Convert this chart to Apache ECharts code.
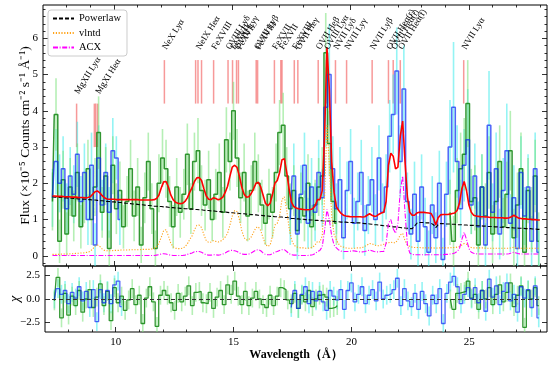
<!DOCTYPE html>
<html>
<head>
<meta charset="utf-8">
<script src="https://cdn.jsdelivr.net/npm/echarts@6/dist/echarts.min.js"></script>
<style>
html, body { margin: 0; padding: 0; background: #fff; }
#main { width: 554px; height: 369px; }
</style>
</head>
<body>
<div id="main"></div>
<script>
// model curves, sampled every 0.1 A from 7.4 A
var modelStart = 7.4, modelStep = 0.1;
var powerlaw = [
  1.63,1.62,1.62,1.61,1.61,1.60,1.60,1.59,1.59,1.58,
  1.58,1.57,1.57,1.56,1.56,1.55,1.55,1.54,1.54,1.53,
  1.52,1.52,1.51,1.50,1.50,1.49,1.49,1.48,1.47,1.47,
  1.46,1.45,1.45,1.44,1.43,1.43,1.42,1.41,1.41,1.40,
  1.39,1.39,1.38,1.37,1.37,1.36,1.36,1.35,1.35,1.34,
  1.33,1.33,1.32,1.32,1.31,1.31,1.30,1.30,1.29,1.29,
  1.28,1.28,1.27,1.27,1.26,1.25,1.25,1.24,1.24,1.23,
  1.22,1.22,1.21,1.21,1.20,1.19,1.19,1.18,1.18,1.17,
  1.16,1.16,1.15,1.15,1.14,1.13,1.13,1.12,1.12,1.11,
  1.10,1.10,1.09,1.09,1.08,1.08,1.07,1.07,1.06,1.06,
  1.05,1.03,1.03,1.02,1.02,1.01,1.01,1.00,1.00,0.99,
  0.99,0.98,0.98,0.97,0.97,0.96,0.96,0.96,0.95,0.95,
  0.94,0.94,0.93,0.93,0.93,0.92,0.92,0.92,0.91,0.91,
  0.91,0.90,0.89,0.89,0.88,0.87,0.86,0.86,0.85,0.84,
  0.83,0.83,0.82,0.81,0.80,0.80,0.79,0.78,0.77,0.77,
  0.76,0.75,0.75,0.82,0.90,0.92,0.92,0.92,0.91,0.91,
  0.90,0.86,0.78,0.86,0.89,0.89,0.88,0.88,0.88,0.87,
  0.87,0.86,0.86,0.86,0.85,0.85,0.84,0.84,0.84,0.83,
  0.83,0.83,0.82,0.82,0.81,0.81,0.81,0.80,0.80,0.79,
  0.79,0.79,0.78,0.78,0.78,0.77,0.77,0.76,0.76,0.76,
  0.75,0.75,0.75,0.74,0.74,0.73,0.73
];
var vlntd = [
  0.04,0.04,0.04,0.04,0.05,0.05,0.05,0.05,0.06,0.06,
  0.07,0.07,0.08,0.08,0.09,0.10,0.13,0.19,0.27,0.30,
  0.26,0.19,0.15,0.14,0.14,0.14,0.15,0.15,0.15,0.16,
  0.16,0.16,0.16,0.17,0.17,0.17,0.17,0.17,0.18,0.18,
  0.18,0.18,0.19,0.21,0.25,0.35,0.52,0.70,0.72,0.55,
  0.35,0.25,0.21,0.20,0.20,0.21,0.25,0.33,0.45,0.55,
  0.72,0.84,0.85,0.78,0.58,0.42,0.37,0.38,0.42,0.40,
  0.38,0.40,0.45,0.52,0.62,0.85,1.10,1.25,1.22,1.00,
  0.70,0.50,0.44,0.45,0.52,0.65,0.78,0.80,0.70,0.50,
  0.32,0.26,0.30,0.55,0.85,0.90,1.10,1.55,1.63,1.25,
  0.78,0.45,0.30,0.25,0.23,0.22,0.22,0.21,0.21,0.22,
  0.24,0.30,0.40,0.38,0.55,1.60,3.60,2.50,1.10,0.60,
  0.44,0.32,0.26,0.24,0.22,0.21,0.21,0.21,0.21,0.22,
  0.22,0.23,0.26,0.30,0.34,0.33,0.30,0.28,0.28,0.30,
  0.32,0.35,0.36,0.38,0.36,0.36,0.45,0.58,0.62,0.42,
  0.30,0.26,0.24,0.23,0.23,0.23,0.22,0.22,0.22,0.22,
  0.22,0.22,0.21,0.22,0.22,0.22,0.22,0.22,0.22,0.23,
  0.23,0.24,0.26,0.30,0.34,0.32,0.26,0.23,0.22,0.22,
  0.22,0.22,0.22,0.21,0.21,0.21,0.21,0.21,0.21,0.21,
  0.21,0.21,0.21,0.21,0.22,0.24,0.22,0.21,0.21,0.21,
  0.21,0.21,0.21,0.21,0.21,0.21,0.21
];
var acx = [
  0.01,0.01,0.01,0.01,0.01,0.01,0.01,0.01,0.01,0.01,
  0.01,0.01,0.01,0.01,0.01,0.01,0.01,0.01,0.01,0.01,
  0.01,0.01,0.01,0.01,0.01,0.01,0.01,0.01,0.01,0.01,
  0.01,0.01,0.01,0.01,0.01,0.01,0.01,0.01,0.01,0.01,
  0.01,0.01,0.01,0.01,0.02,0.03,0.05,0.06,0.05,0.03,
  0.02,0.01,0.01,0.01,0.01,0.01,0.02,0.04,0.06,0.08,
  0.11,0.12,0.12,0.10,0.06,0.03,0.02,0.02,0.03,0.03,
  0.02,0.03,0.05,0.08,0.12,0.15,0.15,0.14,0.12,0.08,
  0.05,0.04,0.04,0.05,0.08,0.12,0.16,0.17,0.14,0.08,
  0.04,0.03,0.03,0.06,0.10,0.12,0.15,0.17,0.17,0.12,
  0.06,0.03,0.02,0.02,0.01,0.01,0.01,0.01,0.01,0.02,
  0.03,0.06,0.12,0.15,0.25,0.70,1.28,1.00,0.55,0.30,
  0.22,0.16,0.13,0.12,0.12,0.12,0.13,0.14,0.13,0.12,
  0.11,0.11,0.12,0.14,0.16,0.14,0.12,0.11,0.11,0.12,
  0.12,0.35,0.90,1.00,0.75,0.62,0.90,1.80,2.20,1.20,
  0.30,0.08,0.04,0.03,0.03,0.03,0.03,0.03,0.03,0.03,
  0.03,0.03,0.03,0.03,0.03,0.03,0.04,0.04,0.05,0.06,
  0.08,0.12,0.20,0.45,0.65,0.45,0.20,0.10,0.07,0.06,
  0.05,0.05,0.05,0.05,0.05,0.05,0.05,0.05,0.05,0.05,
  0.05,0.05,0.05,0.06,0.08,0.10,0.08,0.06,0.05,0.05,
  0.05,0.05,0.05,0.05,0.05,0.05,0.05
];
var totalModel = [
  1.65,1.65,1.64,1.64,1.64,1.63,1.63,1.63,1.62,1.62,
  1.62,1.61,1.61,1.61,1.60,1.61,1.63,1.70,1.77,1.79,
  1.74,1.66,1.60,1.57,1.56,1.56,1.56,1.55,1.55,1.55,
  1.55,1.55,1.55,1.55,1.55,1.55,1.55,1.54,1.54,1.54,
  1.54,1.54,1.54,1.55,1.58,1.68,1.88,2.04,2.05,1.90,
  1.68,1.55,1.48,1.45,1.44,1.45,1.50,1.60,1.75,1.88,
  2.05,2.15,2.16,2.08,1.85,1.65,1.56,1.55,1.60,1.58,
  1.55,1.57,1.62,1.75,1.92,2.20,2.45,2.50,2.44,2.20,
  1.90,1.70,1.62,1.63,1.72,1.85,2.00,2.03,1.90,1.68,
  1.45,1.38,1.45,1.70,2.00,2.08,2.30,2.65,2.68,2.30,
  1.85,1.48,1.36,1.32,1.30,1.29,1.28,1.27,1.27,1.28,
  1.30,1.38,1.55,1.55,1.80,3.30,5.75,4.60,2.60,1.75,
  1.35,1.25,1.17,1.12,1.10,1.09,1.08,1.08,1.08,1.08,
  1.08,1.07,1.08,1.12,1.16,1.12,1.09,1.10,1.15,1.18,
  1.20,1.50,2.50,2.83,2.75,2.40,2.45,3.30,3.72,2.60,
  1.63,1.20,1.12,1.12,1.18,1.20,1.20,1.20,1.19,1.18,
  1.17,1.05,0.85,1.05,1.13,1.14,1.14,1.14,1.15,1.17,
  1.18,1.25,1.45,1.85,2.05,1.80,1.40,1.20,1.12,1.10,
  1.09,1.08,1.08,1.07,1.07,1.06,1.06,1.06,1.05,1.05,
  1.05,1.04,1.04,1.05,1.08,1.12,1.08,1.04,1.03,1.02,
  1.02,1.01,1.01,1.00,1.00,0.99,0.99
];

// spectra, 0.15 A bins
var binW = 0.15;
var greenStartA = 7.40, greenStartB = 24.20;
var blueStartA = 7.40, blueStartB = 17.45;

var greenFluxA = [
  1.5,3.9,0.4,2.1,0.6,1.9,1.1,2.3,0.8,1.6,
  2.4,1.0,1.9,3.4,1.2,2.2,0.2,2.5,1.3,1.8,
  0.8,1.5,2.4,1.1,1.9,0.3,1.6,2.6,1.3,0.2,
  2.0,2.7,2.4,1.5,0.8,1.9,1.2,1.7,2.8,1.3,
  2.6,2.9,1.8,1.4,2.1,1.0,1.7,2.3,1.2,3.2,
  2.6,4.0,2.7,1.6,2.3,1.1,1.8,2.6,2.0,1.4,
  0.9,1.7,1.2,2.3,3.4,3.6,2.2,1.3,1.8,0.7,
  1.6,1.1,2.0,0.8,1.4,1.9,2.2,5.6,3.1,1.5,
  0.9
];
var greenErrA = [
  0.8,1.0,0.6,0.8,0.6,0.8,0.7,0.8,0.6,0.7,
  0.8,0.7,0.8,1.0,0.7,0.8,0.5,0.8,0.7,0.8,
  0.6,0.7,0.8,0.7,0.8,0.5,0.7,0.8,0.7,0.5,
  0.8,0.8,0.8,0.7,0.6,0.8,0.7,0.7,0.85,0.7,
  0.8,0.9,0.7,0.7,0.8,0.6,0.7,0.8,0.7,0.9,
  0.8,0.8,0.8,0.7,0.8,0.7,0.7,0.8,0.8,0.7,
  0.6,0.7,0.7,0.8,0.9,0.9,0.8,0.7,0.7,0.6,
  0.7,0.7,0.8,0.6,0.7,0.8,0.8,1.1,0.9,0.7,
  0.6
];
var greenChiA = [
  -0.2,2.3,-2.0,0.6,-1.7,0.3,-0.7,0.9,-1.4,0.0,
  1.0,-0.9,0.2,1.6,-0.7,0.8,-2.3,1.2,-0.4,0.3,
  -1.2,-0.1,1.1,-0.6,0.4,-2.6,0.1,1.3,-0.3,-2.9,
  0.4,0.9,0.4,-0.4,-1.2,0.6,-0.3,0.3,1.4,-0.7,
  0.7,0.8,-0.4,-0.5,0.7,-1.0,0.2,0.9,-0.6,1.5,
  0.5,1.9,0.3,-0.6,0.8,-0.7,0.1,0.8,0.0,-0.6,
  -0.9,0.4,-0.7,0.3,1.2,1.0,-0.1,-0.5,0.6,-1.0,
  0.4,-0.3,0.9,-0.8,0.0,0.4,0.5,0.2,-1.0,-0.9,
  -0.7
];
var greenFluxB = [
  1.2,0.4,1.8,2.4,2.8,4.2,1.5,1.6,0.3,1.9,
  1.1,2.3,0.6,1.5,2.6,0.8,1.7,2.9,0.5,1.4,
  2.4,0.1,1.8,1.0,2.2,0.4
];
var greenErrB = [
  0.9,0.7,0.9,1.0,1.0,1.2,0.9,0.9,0.7,0.9,
  0.9,1.0,0.8,0.9,1.0,0.8,0.9,1.1,0.8,0.9,
  1.0,0.6,0.9,0.9,1.0,0.8
];
var greenChiB = [
  0.0,-1.1,0.6,0.7,0.8,1.9,0.1,0.5,-1.1,0.9,
  0.0,1.2,-0.6,0.5,1.5,-0.3,0.7,1.7,-0.8,0.4,
  1.4,-3.0,0.9,0.0,1.2,-0.7
];

var blueFluxA = [
  1.6,2.6,2.0,2.4,1.3,2.2,1.7,2.8,1.5,2.3,
  1.0,2.5,0.3,2.7,1.4,2.3,1.2,2.9,2.7,1.0
];
var blueErrA = [
  0.8,0.9,0.8,0.9,0.7,0.8,0.8,0.9,0.7,0.8,
  0.7,0.9,0.6,0.9,0.7,0.8,0.7,0.9,0.6,0.7
];
var blueChiA = [
  0.0,1.1,0.5,0.9,-0.5,0.7,0.1,1.3,-0.2,0.8,
  -0.9,1.0,-2.4,1.0,-0.4,0.9,-0.5,1.5,1.9,-0.8
];
var blueFluxB = [
  1.0,2.2,0.6,1.7,2.5,0.9,1.9,1.2,2.3,1.6,
  4.1,5.0,2.4,1.3,2.1,0.5,1.8,2.6,0.9,1.5,
  2.3,0.7,1.4,2.1,1.0,2.7,1.2,1.9,3.3,3.9,
  5.1,2.6,4.6,1.5,0.6,1.7,0.4,1.9,0.8,0.1,
  1.4,0.5,2.0,-0.1,1.7,3.0,4.1,2.6,1.3,2.5,
  3.2,1.4,2.2,0.8,1.9,0.3,3.6,1.2,2.4,0.6,
  1.8,2.9,0.9,1.6,0.2,2.3,1.1,1.9,0.4,2.4,
  0.1
];
var blueErrB = [
  0.7,0.9,0.7,0.8,0.9,0.7,0.8,0.8,0.9,0.8,
  1.1,1.4,0.9,0.7,0.9,0.6,0.8,0.9,0.7,0.8,
  0.9,0.7,0.8,0.9,0.7,0.9,0.8,0.9,1.0,1.1,
  1.2,1.0,1.2,0.8,0.7,0.9,0.7,0.9,0.8,0.6,
  0.8,0.7,0.9,0.6,0.9,1.3,1.8,1.0,0.8,1.0,
  1.4,0.8,0.9,0.7,0.9,0.6,1.5,0.8,1.0,0.7,
  0.9,1.3,0.8,0.9,0.6,1.0,0.8,0.9,0.7,1.0,
  0.6
];
var blueChiB = [
  -0.9,0.9,-1.0,0.5,1.3,-0.5,0.8,-0.2,0.8,-0.3,
  -1.2,0.9,0.3,-0.1,1.0,-1.1,0.9,1.7,-0.3,0.5,
  1.3,-0.5,0.4,1.0,-0.2,1.8,0.0,0.4,0.6,1.0,
  2.2,-0.7,1.1,-0.2,-0.8,0.6,-1.1,0.8,-0.5,-1.8,
  0.4,-0.5,1.1,-2.6,0.6,1.8,2.4,1.3,-0.5,0.5,
  1.2,0.0,1.2,-0.4,0.9,-1.3,2.1,0.2,1.4,-0.6,
  0.8,1.7,-0.2,0.5,-1.4,1.3,0.1,1.0,-0.9,1.4,
  -2.0
];

// line identifications
var lineWl = [8.42, 9.17, 9.23, 9.31, 12.13, 13.45, 13.55, 13.70, 14.21, 14.82, 15.01,
  15.18, 15.26, 16.01, 16.07, 16.78, 17.05, 17.10, 17.62, 17.77, 18.63, 18.97, 19.36,
  19.83, 20.91, 21.60, 21.80, 22.10, 24.78];
var labelWl = [8.42, 9.31, 12.13, 13.55, 14.21, 14.82, 15.01, 15.18, 15.26, 16.01, 16.07,
  16.78, 17.07, 17.62, 17.77, 18.63, 18.97, 19.36, 19.83, 20.91, 21.60, 21.80, 22.10, 24.78];
var labelText = ['MgXII Lyα', 'MgXI Heα', 'NeX Lyα', 'NeIX Heα', 'FeXVIII', 'OVIII Lyδ',
  'FeXVII', 'OVIII Lyγ', 'FeXVII', 'OVIII Lyβ', 'FeXVIII', 'FeXVII', 'FeXVII', 'FeXVIII',
  'OVII Heγ', 'OVII Heβ', 'OVIII Lyα', 'NVII Lyδ', 'NVII Lyγ', 'NVII Lyβ',
  'OVII Heα(r)', 'OVII Heα(i)', 'OVII Heα(f)', 'NVII Lyα'];

var xMajor = [10, 15, 20, 25];
var xMinor = [8, 9, 11, 12, 13, 14, 16, 17, 18, 19, 21, 22, 23, 24, 26, 27, 28];
var yMajor = [0, 1, 2, 3, 4, 5, 6];
var chiMajor = [-2.5, 0, 2.5];

var SERIF = '"Liberation Serif", "Times New Roman", serif';
var X_MIN = 7.0, X_MAX = 28.3;

var yMinor = [];
for (var k = -1; k <= 34; k++) {
  if (k % 5 !== 0) yMinor.push(+(k * 0.2).toFixed(1));
}

function steps(start, step, vals) {
  return vals.map(function (v, i) { return [+(start + i * step).toFixed(3), v]; });
}
function errData(start, vals, errs) {
  return vals.map(function (v, i) { return [+(start + i * binW).toFixed(3), v, errs ? errs[i] : 1]; });
}

function errSeries(data, color, ax, width) {
  return {
    type: 'custom', xAxisIndex: ax, yAxisIndex: ax, z: 1, silent: true, clip: true,
    data: data,
    encode: { x: 0, y: 1 },
    renderItem: function (params, api) {
      var x = api.value(0), y = api.value(1), e = api.value(2);
      var a = api.coord([x, y - e]), b = api.coord([x, y + e]);
      return { type: 'line', shape: { x1: a[0], y1: a[1], x2: b[0], y2: b[1] },
        style: { stroke: color, lineWidth: width } };
    }
  };
}
function stepSeries(data, color, ax, width, z) {
  return {
    type: 'line', step: 'middle', xAxisIndex: ax, yAxisIndex: ax, z: z, silent: true,
    data: data, symbol: 'none', clip: true,
    lineStyle: { color: color, width: width }
  };
}

function xAx(g, pos, ticks, len, labels) {
  return {
    type: 'value', gridIndex: g, position: pos, min: X_MIN, max: X_MAX,
    axisLine: { show: false, onZero: false }, splitLine: { show: false },
    axisTick: { show: true, inside: true, length: len, customValues: ticks,
      lineStyle: { color: '#000', width: 0.8 } },
    axisLabel: labels ? { show: true, customValues: ticks, color: '#000',
      fontFamily: SERIF, fontSize: 11, margin: 5 } : { show: false }
  };
}
function yAx(g, pos, min, max, ticks, len, labels, fmt) {
  return {
    type: 'value', gridIndex: g, position: pos, min: min, max: max,
    axisLine: { show: false, onZero: false }, splitLine: { show: false },
    axisTick: { show: true, inside: true, length: len, customValues: ticks,
      lineStyle: { color: '#000', width: 0.8 } },
    axisLabel: labels ? { show: true, customValues: ticks, color: '#000',
      fontFamily: SERIF, fontSize: 11, margin: 5, formatter: fmt } : { show: false }
  };
}

var xAxes = [
  xAx(0, 'bottom', xMajor, 5, false), xAx(0, 'bottom', xMinor, 2.5, false),
  xAx(0, 'top', xMajor, 5, false), xAx(0, 'top', xMinor, 2.5, false),
  xAx(1, 'bottom', xMajor, 5, true), xAx(1, 'bottom', xMinor, 2.5, false),
  xAx(1, 'top', xMajor, 5, false), xAx(1, 'top', xMinor, 2.5, false)
];
xAxes[4].name = 'Wavelength（Å）';
xAxes[4].nameLocation = 'middle';
xAxes[4].nameGap = 17;
xAxes[4].nameMoveOverlap = false;
xAxes[4].nameTextStyle = { fontFamily: SERIF, fontSize: 12, fontWeight: 'bold', color: '#000' };

var fmtFlux = function (v) { return String(v); };
var fmtChi = function (v) { return v === 0 ? '0.0' : (v < 0 ? '−' + (-v).toFixed(1) : v.toFixed(1)); };
var yAxes = [
  yAx(0, 'left', -0.28, 6.92, yMajor, 5, true, fmtFlux), yAx(0, 'left', -0.28, 6.92, yMinor, 2.5, false),
  yAx(0, 'right', -0.28, 6.92, yMajor, 5, false), yAx(0, 'right', -0.28, 6.92, yMinor, 2.5, false),
  yAx(1, 'left', -3.5, 3.5, chiMajor, 5, true, fmtChi), yAx(1, 'left', -3.5, 3.5, [], 2.5, false),
  yAx(1, 'right', -3.5, 3.5, chiMajor, 5, false), yAx(1, 'right', -3.5, 3.5, [], 2.5, false)
];
yAxes[0].name = 'Flux (×10⁻⁵ Counts cm⁻² s⁻¹ Å⁻¹)';
yAxes[0].nameLocation = 'middle';
yAxes[0].nameRotate = 90;
yAxes[0].nameGap = 11;
yAxes[0].nameMoveOverlap = false;
yAxes[0].nameTextStyle = { fontFamily: SERIF, fontSize: 13.5, color: '#000' };
yAxes[4].name = 'χ';
yAxes[4].nameLocation = 'middle';
yAxes[4].nameRotate = 90;
yAxes[4].nameGap = 23;
yAxes[4].nameMoveOverlap = false;
yAxes[4].nameTextStyle = { fontFamily: SERIF, fontSize: 14, fontStyle: 'italic', color: '#000' };

var cyan = 'rgba(60,235,235,0.55)';
var lightGreen = 'rgba(120,225,120,0.55)';
var green = 'rgba(20,135,20,0.88)';
var blue = 'rgba(10,40,245,0.72)';

var series = [
  // line markers
  {
    type: 'custom', xAxisIndex: 0, yAxisIndex: 0, z: 0, silent: true,
    data: lineWl.map(function (w) { return [w]; }),
    encode: { x: 0 },
    renderItem: function (params, api) {
      var w = api.value(0);
      var lo = w < 10 ? 3.0 : 4.2, hi = w < 10 ? 4.2 : 5.4;
      var a = api.coord([w, lo]), b = api.coord([w, hi]);
      return { type: 'line', shape: { x1: a[0], y1: a[1], x2: b[0], y2: b[1] },
        style: { stroke: 'rgba(240,70,70,0.55)', lineWidth: 1.5 } };
    }
  },
  {
    type: 'custom', xAxisIndex: 0, yAxisIndex: 0, z: 6, silent: true,
    data: labelWl.map(function (w) { return [w]; }),
    encode: { x: 0 },
    renderItem: function (params, api) {
      var w = api.value(0);
      var p = api.coord([w, w < 10 ? 4.42 : 5.65]);
      return { type: 'text', x: p[0] + 4, y: p[1], rotation: 58 * Math.PI / 180,
        style: { text: labelText[params.dataIndex], fill: '#000', align: 'left',
          verticalAlign: 'bottom', font: '9px ' + SERIF } };
    }
  },
  // error bars
  errSeries(errData(blueStartA, blueFluxA, blueErrA), cyan, 0, 1.6),
  errSeries(errData(blueStartB, blueFluxB, blueErrB), cyan, 0, 1.6),
  errSeries(errData(greenStartA, greenFluxA, greenErrA), lightGreen, 0, 1.6),
  errSeries(errData(greenStartB, greenFluxB, greenErrB), lightGreen, 0, 1.6),
  stepSeries(steps(greenStartA, binW, greenFluxA), green, 0, 1.5, 2),
  stepSeries(steps(greenStartB, binW, greenFluxB), green, 0, 1.5, 2),
  stepSeries(steps(blueStartA, binW, blueFluxA), blue, 0, 1.5, 2),
  stepSeries(steps(blueStartB, binW, blueFluxB), blue, 0, 1.5, 2),
  // models
  { name: 'Powerlaw', type: 'line', xAxisIndex: 0, yAxisIndex: 0, z: 3, symbol: 'none', silent: true,
    data: steps(modelStart, modelStep, powerlaw),
    lineStyle: { color: '#000', width: 1.1, type: [4, 2] }, itemStyle: { color: '#000' } },
  { name: 'vlntd', type: 'line', xAxisIndex: 0, yAxisIndex: 0, z: 3, symbol: 'none', silent: true,
    data: steps(modelStart, modelStep, vlntd),
    lineStyle: { color: '#ffa31a', width: 1.1, type: [1.2, 1.6] }, itemStyle: { color: '#ffa31a' } },
  { name: 'ACX', type: 'line', xAxisIndex: 0, yAxisIndex: 0, z: 3, symbol: 'none', silent: true,
    data: steps(modelStart, modelStep, acx),
    lineStyle: { color: '#ff00ff', width: 1.1, type: [5, 1.6, 1, 1.6] }, itemStyle: { color: '#ff00ff' } },
  { type: 'line', xAxisIndex: 0, yAxisIndex: 0, z: 4, symbol: 'none', silent: true,
    data: steps(modelStart, modelStep, totalModel),
    lineStyle: { color: '#ff0000', width: 1.6 } },
  // residuals
  errSeries(errData(blueStartA, blueChiA), cyan, 4, 1.6),
  errSeries(errData(blueStartB, blueChiB), cyan, 4, 1.6),
  errSeries(errData(greenStartA, greenChiA), lightGreen, 4, 1.6),
  errSeries(errData(greenStartB, greenChiB), lightGreen, 4, 1.6),
  stepSeries(steps(greenStartA, binW, greenChiA), green, 4, 1.3, 2),
  stepSeries(steps(greenStartB, binW, greenChiB), green, 4, 1.3, 2),
  stepSeries(steps(blueStartA, binW, blueChiA), blue, 4, 1.3, 2),
  {
    type: 'line', step: 'middle', xAxisIndex: 4, yAxisIndex: 4, z: 2, silent: true,
    data: steps(blueStartB, binW, blueChiB), symbol: 'none', clip: true,
    lineStyle: { color: blue, width: 1.3 },
    markLine: { silent: true, symbol: 'none', label: { show: false }, z: 5,
      lineStyle: { color: '#333', width: 1, type: [4, 3] },
      data: [{ yAxis: 0 }] }
  }
];

var chart = echarts.init(document.getElementById('main'));
chart.setOption({
  animation: false,
  backgroundColor: '#fff',
  grid: [
    { left: 43, right: 7, top: 5, height: 261, show: true, borderColor: '#000', borderWidth: 1, backgroundColor: 'transparent' },
    { left: 43, right: 7, top: 266, height: 66, show: true, borderColor: '#000', borderWidth: 1, backgroundColor: 'transparent' }
  ],
  legend: {
    data: ['Powerlaw', 'vlntd', 'ACX'], orient: 'vertical', left: 48, top: 10,
    itemWidth: 21, itemHeight: 11, itemGap: 3.5, padding: [3, 6, 3, 4],
    backgroundColor: '#fff', borderColor: '#cccccc', borderWidth: 1, borderRadius: 3,
    selectedMode: false,
    itemStyle: { opacity: 0 },
    textStyle: { fontFamily: SERIF, fontSize: 10.5, color: '#000' }
  },
  xAxis: xAxes,
  yAxis: yAxes,
  series: series
});
</script>
</body>
</html>
